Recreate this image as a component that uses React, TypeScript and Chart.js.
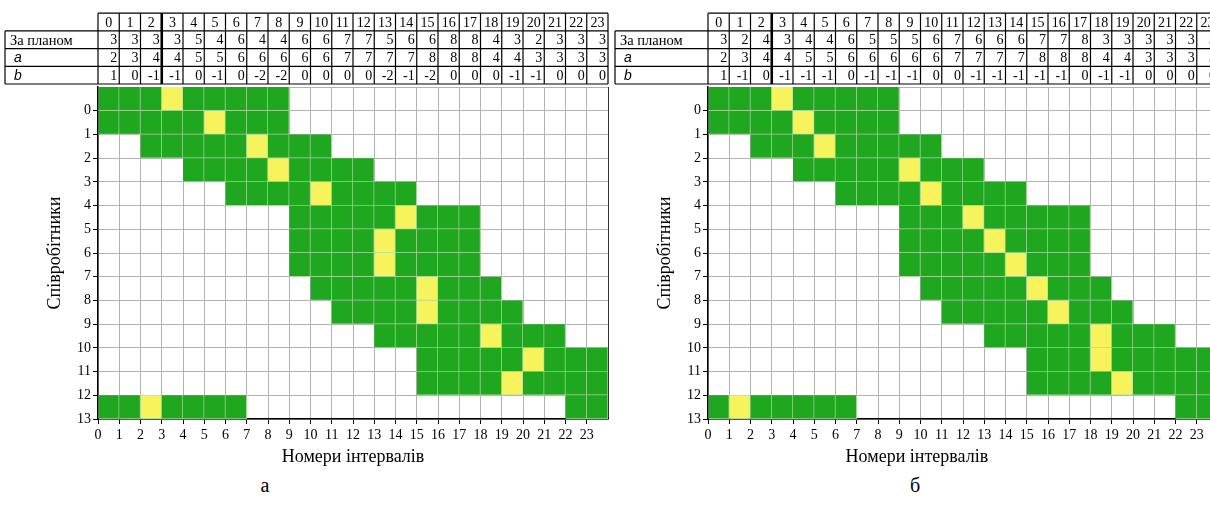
import React, { useEffect, useRef } from "react";
import { Chart, registerables } from "chart.js";

Chart.register(...registerables);

// Interval numbers shown along the x axis and in the table header
const INTERVALS = [0, 1, 2, 3, 4, 5, 6, 7, 8, 9, 10, 11, 12, 13, 14, 15, 16, 17, 18, 19, 20, 21, 22, 23];

// Variant "а": planned staff, assigned staff (a) and their difference (b)
const PLAN_A = [3, 3, 3, 3, 5, 4, 6, 4, 4, 6, 6, 7, 7, 5, 6, 6, 8, 8, 4, 3, 2, 3, 3, 3];
const LOAD_A = [2, 3, 4, 4, 5, 5, 6, 6, 6, 6, 6, 7, 7, 7, 7, 8, 8, 8, 4, 4, 3, 3, 3, 3];
const DIFF_A = [1, 0, -1, -1, 0, -1, 0, -2, -2, 0, 0, 0, 0, -2, -1, -2, 0, 0, 0, -1, -1, 0, 0, 0];

// Variant "б"
const PLAN_B = [3, 2, 4, 3, 4, 4, 6, 5, 5, 5, 6, 7, 6, 6, 6, 7, 7, 8, 3, 3, 3, 3, 3, 3];
const LOAD_B = [2, 3, 4, 4, 5, 5, 6, 6, 6, 6, 6, 7, 7, 7, 7, 8, 8, 8, 4, 4, 3, 3, 3, 3];
const DIFF_B = [1, -1, 0, -1, -1, -1, 0, -1, -1, -1, 0, 0, -1, -1, -1, -1, -1, 0, -1, -1, 0, 0, 0, 0];

// Working shifts: [row (from top), first interval, last interval]
const SHIFTS_A: [number, number, number][] = [
  [0, 0, 8], [1, 0, 8], [2, 2, 10], [3, 4, 12], [4, 6, 14], [5, 9, 17], [6, 9, 17],
  [7, 9, 17], [8, 10, 18], [9, 11, 19], [10, 13, 21], [11, 15, 23], [12, 15, 23],
  [13, 0, 6], [13, 22, 23],
];
const SHIFTS_B: [number, number, number][] = [
  [0, 0, 8], [1, 0, 8], [2, 2, 10], [3, 4, 12], [4, 6, 14], [5, 9, 17], [6, 9, 17],
  [7, 9, 17], [8, 10, 18], [9, 11, 19], [10, 13, 21], [11, 15, 23], [12, 15, 23],
  [13, 0, 6], [13, 22, 23],
];

// Breaks inside the shifts: [row, interval]
const BREAKS_A: [number, number][] = [
  [0, 3], [1, 5], [2, 7], [3, 8], [4, 10], [5, 14], [6, 13], [7, 13],
  [8, 15], [9, 15], [10, 18], [11, 20], [12, 19], [13, 2],
];
const BREAKS_B: [number, number][] = [
  [0, 3], [1, 4], [2, 5], [3, 9], [4, 10], [5, 12], [6, 13], [7, 14],
  [8, 15], [9, 16], [10, 18], [11, 18], [12, 19], [13, 1],
];

const GREEN = "#1fa71f";
const YELLOW = "#f7f35c";
const CELL_EDGE = "rgba(165,222,150,0.95)";
const GRID = "#b2b2b2";
const SERIF = '"Liberation Serif", "Times New Roman", serif';
const SANS = '"Liberation Sans", Arial, sans-serif';

type Cell = { x: [number, number]; y: number };

function buildCells(shifts: [number, number, number][], breaks: [number, number][]) {
  const isBreak = (r: number, c: number) => breaks.some(([br, bc]) => br === r && bc === c);
  const work: Cell[] = [];
  const rest: Cell[] = [];
  shifts.forEach(([r, from, to]) => {
    for (let c = from; c <= to; c++) {
      if (!isBreak(r, c)) work.push({ x: [c, c + 1], y: r - 0.5 });
    }
  });
  breaks.forEach(([r, c]) => rest.push({ x: [c, c + 1], y: r - 0.5 }));
  return { work, rest };
}

type Props = {
  plan: number[];
  load: number[];
  diff: number[];
  shifts: [number, number, number][];
  breaks: [number, number][];
  titleAt: number;
};

function ScheduleChart({ plan, load, diff, shifts, breaks, titleAt }: Props) {
  const ref = useRef<HTMLCanvasElement>(null);

  useEffect(() => {
    const canvas = ref.current;
    if (!canvas) return;
    const { work, rest } = buildCells(shifts, breaks);

    const tableRows = [
      { label: "За планом", font: `14.5px ${SERIF}`, values: plan },
      { label: "a", font: `italic 14px ${SANS}`, values: load },
      { label: "b", font: `italic 14px ${SANS}`, values: diff },
    ];

    // Table of planned / assigned staff above the grid, aligned to the x scale
    const planTable = {
      id: "planTable",
      afterDraw(chart: any) {
        const { ctx, chartArea } = chart;
        const x = chart.scales.x;
        const rowH = 17.7;
        const bottom = chartArea.top - 3;
        const top = bottom - 4 * rowH;
        const labelLeft = 5;
        const left = x.getPixelForValue(0);
        const right = x.getPixelForValue(INTERVALS.length);
        ctx.save();
        ctx.strokeStyle = "#000";
        ctx.lineWidth = 1.2;
        const line = (x1: number, y1: number, x2: number, y2: number) => {
          ctx.beginPath();
          ctx.moveTo(x1, y1);
          ctx.lineTo(x2, y2);
          ctx.stroke();
        };
        line(left, top, right, top);
        for (let r = 1; r <= 4; r++) line(labelLeft, top + r * rowH, right, top + r * rowH);
        line(labelLeft, top + rowH, labelLeft, bottom);
        for (let c = 0; c <= INTERVALS.length; c++) {
          ctx.lineWidth = c === 3 ? 2.6 : 1.2;
          const px = x.getPixelForValue(c);
          line(px, top, px, bottom);
        }
        ctx.fillStyle = "#000";
        ctx.textBaseline = "middle";
        ctx.font = `14px ${SERIF}`;
        ctx.textAlign = "center";
        INTERVALS.forEach((v, c) => {
          const cx = (x.getPixelForValue(c) + x.getPixelForValue(c + 1)) / 2;
          ctx.fillText(String(v), cx, top + rowH / 2 + 1);
        });
        tableRows.forEach((row, i) => {
          const cy = top + (i + 1.5) * rowH + 1;
          ctx.textAlign = "left";
          ctx.font = row.font;
          ctx.fillText(row.label, i === 0 ? labelLeft + 5 : labelLeft + 9, cy);
          ctx.font = `14px ${SERIF}`;
          ctx.textAlign = "right";
          row.values.forEach((v, c) => {
            ctx.fillText(String(v), x.getPixelForValue(c + 1) - 2, cy);
          });
        });
        ctx.restore();
      },
    };

    // x axis title, placed at a position on the interval scale
    const xTitle = {
      id: "xTitle",
      afterDraw(chart: any) {
        const { ctx, chartArea } = chart;
        const x = chart.scales.x;
        ctx.save();
        ctx.fillStyle = "#000";
        ctx.font = `18px ${SERIF}`;
        ctx.textAlign = "center";
        ctx.textBaseline = "middle";
        ctx.fillText("Номери інтервалів", x.getPixelForValue(titleAt), chartArea.bottom + 38);
        ctx.restore();
      },
    };

    const cellStyle = {
      borderColor: CELL_EDGE,
      borderWidth: { top: 0, left: 0, right: 1, bottom: 1 },
      borderSkipped: false,
      grouped: false,
      categoryPercentage: 1,
      barPercentage: 1,
    };

    const chart = new Chart(canvas, {
      type: "bar",
      data: {
        datasets: [
          { label: "Робота", data: work as any, backgroundColor: GREEN, ...cellStyle } as any,
          { label: "Перерва", data: rest as any, backgroundColor: YELLOW, ...cellStyle } as any,
        ],
      },
      options: {
        indexAxis: "y",
        responsive: false,
        animation: false,
        events: [],
        layout: { padding: { top: 87, right: 12, bottom: 1, left: 0 } },
        plugins: { legend: { display: false }, tooltip: { enabled: false } },
        scales: {
          x: {
            type: "linear",
            min: 0,
            max: INTERVALS.length,
            offset: false,
            ticks: {
              stepSize: 1,
              autoSkip: false,
              maxRotation: 0,
              padding: 3,
              color: "#000",
              font: { family: SERIF, size: 14 },
              callback: (v: any) => (v < INTERVALS.length ? String(INTERVALS[v]) : ""),
            },
            grid: {
              offset: false,
              color: (c: any) => (c.tick && c.tick.value === INTERVALS.length ? "#333" : GRID),
              lineWidth: 1,
              tickLength: 5,
              tickColor: (c: any) => (c.tick && c.tick.value === INTERVALS.length ? "rgba(0,0,0,0)" : "#000"),
            },
            border: { color: "#000", width: 1.5 },
            afterFit: (s: any) => {
              s.height = 50;
            },
          },
          y: {
            type: "linear",
            min: -1,
            max: 13,
            reverse: true,
            offset: false,
            ticks: {
              stepSize: 1,
              autoSkip: false,
              padding: 2,
              color: "#000",
              font: { family: SERIF, size: 14 },
              callback: (v: any) => (v >= 0 ? String(v) : ""),
            },
            grid: {
              offset: false,
              color: GRID,
              lineWidth: 1,
              tickLength: 5,
              tickColor: (c: any) => (c.tick && c.tick.value < 0 ? "rgba(0,0,0,0)" : "#000"),
            },
            border: { color: "#000", width: 1.5 },
            title: {
              display: true,
              text: "Співробітники",
              color: "#000",
              font: { family: SERIF, size: 18 },
              padding: { top: 44, bottom: 0 },
            },
            afterFit: (s: any) => {
              s.width = 98;
            },
          },
        },
      } as any,
      plugins: [planTable, xTitle],
    });
    return () => chart.destroy();
  }, [plan, load, diff, shifts, breaks, titleAt]);

  return <canvas ref={ref} width={620} height={470} style={{ display: "block" }} />;
}

const captionStyle: React.CSSProperties = {
  position: "absolute",
  top: 474,
  width: 40,
  textAlign: "center",
  font: `20px ${SERIF}`,
  lineHeight: "23px",
  color: "#000",
};

export default function App() {
  return (
    <div
      style={{
        position: "absolute",
        left: 0,
        top: 0,
        width: 1210,
        height: 515,
        overflow: "hidden",
        background: "#fff",
      }}
    >
      <div style={{ position: "absolute", left: 0, top: 0 }}>
        <ScheduleChart plan={PLAN_A} load={LOAD_A} diff={DIFF_A} shifts={SHIFTS_A} breaks={BREAKS_A} titleAt={12} />
      </div>
      <div style={{ position: "absolute", left: 610, top: 0 }}>
        <ScheduleChart plan={PLAN_B} load={LOAD_B} diff={DIFF_B} shifts={SHIFTS_B} breaks={BREAKS_B} titleAt={9.83} />
      </div>
      <div style={{ ...captionStyle, left: 245 }}>а</div>
      <div style={{ ...captionStyle, left: 895 }}>б</div>
    </div>
  );
}
